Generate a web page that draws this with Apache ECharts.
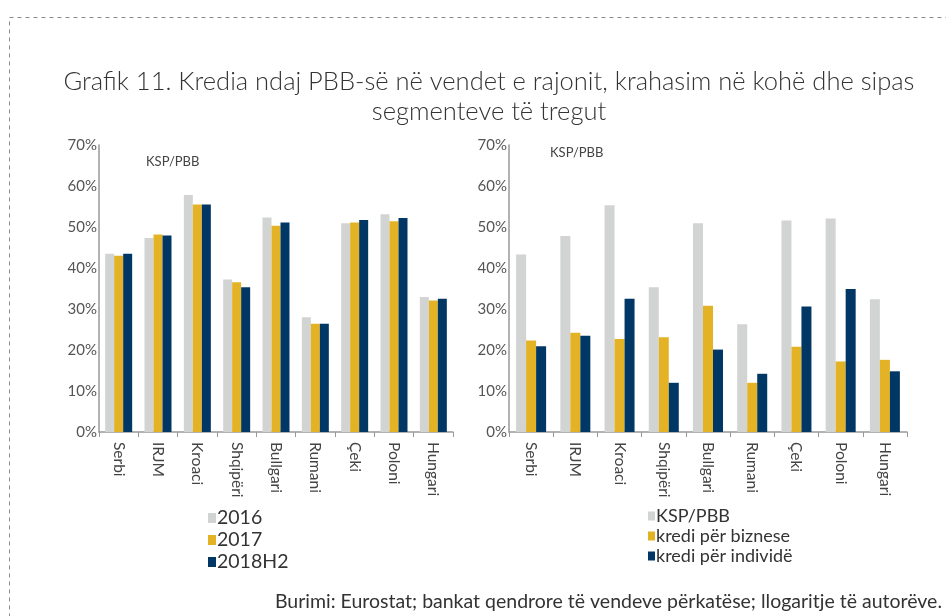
<!DOCTYPE html>
<html><head><meta charset="utf-8">
<script src="https://cdn.jsdelivr.net/npm/echarts@6/dist/echarts.min.js"></script>
<style>html,body{margin:0;padding:0;background:#fff}#c{width:946px;height:616px}</style>
</head><body><div id="c"></div>
<script>
var countries = ['Serbi','IRJM','Kroaci','Shqipëri','Bullgari','Rumani','Çeki','Poloni','Hungari'];
var y2016 = [43.5, 47.3, 57.8, 37.2, 52.3, 28.0, 50.9, 53.1, 32.9];
var y2017 = [43.0, 48.2, 55.5, 36.5, 50.3, 26.4, 51.1, 51.4, 32.1];
var y2018H2 = [43.5, 47.9, 55.5, 35.3, 51.1, 26.4, 51.7, 52.2, 32.5];
var kspPbb = [43.3, 47.8, 55.3, 35.3, 50.9, 26.3, 51.6, 52.1, 32.4];
var krediBiznese = [22.3, 24.2, 22.7, 23.1, 30.8, 12.0, 20.8, 17.2, 17.6];
var krediIndivide = [20.9, 23.5, 32.5, 12.0, 20.1, 14.2, 30.6, 34.9, 14.8];
var yTicks = [0, 10, 20, 30, 40, 50, 60, 70];

var cGray = '#D2D3D3', cYellow = '#E3B325', cNavy = '#003764';
var font = 'Lato, "Open Sans", sans-serif';
var chart = echarts.init(document.getElementById('c'));

function xAx(i){
  return {type:'category', gridIndex:i, data:countries,
    axisLine:{lineStyle:{color:'#999', width:1.5}},
    axisTick:{show:true, length:5, lineStyle:{color:'#999'}},
    axisLabel:{rotate:-90, color:'#444', fontSize:15.5, fontFamily:font, margin:10}};
}
function yAx(i){
  return {type:'value', gridIndex:i, min:0, max:70, interval:10,
    axisLine:{show:true, lineStyle:{color:'#999', width:1.5}},
    axisTick:{show:false}, splitLine:{show:false},
    axisLabel:{color:'#555', fontSize:15, fontFamily:font, margin:2, formatter:function(v){return v+'%';}}};
}
function bar(name, data, color, gi, w){
  return {type:'bar', name:name, data:data, xAxisIndex:gi, yAxisIndex:gi,
    itemStyle:{color:color}, barWidth:w, barGap:'0%'};
}

chart.setOption({
  animation:false,
  textStyle:{fontFamily:font},
  title:{text:'Grafik 11. Kredia ndaj PBB-së në vendet e rajonit, krahasim në kohë dhe sipas\nsegmenteve të tregut',
    left:484, top:62, textAlign:'center',
    textStyle:{fontSize:25.5, fontWeight:300, color:'#333', lineHeight:30, fontFamily:font}},
  grid:[{left:99, top:145, width:354, height:287},{left:509, top:145, width:398, height:287}],
  xAxis:[xAx(0), xAx(1)],
  yAxis:[yAx(0), yAx(1)],
  legend:[
    {data:['2016','2017','2018H2'], orient:'vertical', left:203, top:503, itemGap:2, itemWidth:8, itemHeight:10,
     icon:'rect', textStyle:{fontSize:19.5, color:'#333', padding:[0,0,0,-4]}},
    {data:['KSP/PBB','kredi për biznese','kredi për individë'], orient:'vertical', left:643, top:502, itemGap:2, itemWidth:7, itemHeight:9,
     icon:'rect', textStyle:{fontSize:18, color:'#333', padding:[0,0,0,-4]}}
  ],
  graphic:[
    {type:'rect', left:7, top:15, shape:{width:1000, height:700}, style:{fill:'none', stroke:'#888', lineWidth:1, lineDash:[4,4]}},
    {type:'text', left:146, top:155, style:{text:'KSP/PBB', fontSize:13, fill:'#444', fontFamily:font}},
    {type:'text', left:550, top:146, style:{text:'KSP/PBB', fontSize:13, fill:'#444', fontFamily:font}},
    {type:'text', right:4, top:592, style:{text:'Burimi: Eurostat; bankat qendrore të vendeve përkatëse; llogaritje të autorëve.', fontSize:19.5, fill:'#333', fontFamily:font}}
  ],
  series:[
    bar('2016', y2016, cGray, 0, 9),
    bar('2017', y2017, cYellow, 0, 9),
    bar('2018H2', y2018H2, cNavy, 0, 9),
    bar('KSP/PBB', kspPbb, cGray, 1, 10),
    bar('kredi për biznese', krediBiznese, cYellow, 1, 10),
    bar('kredi për individë', krediIndivide, cNavy, 1, 10)
  ]
});
</script></body></html>
